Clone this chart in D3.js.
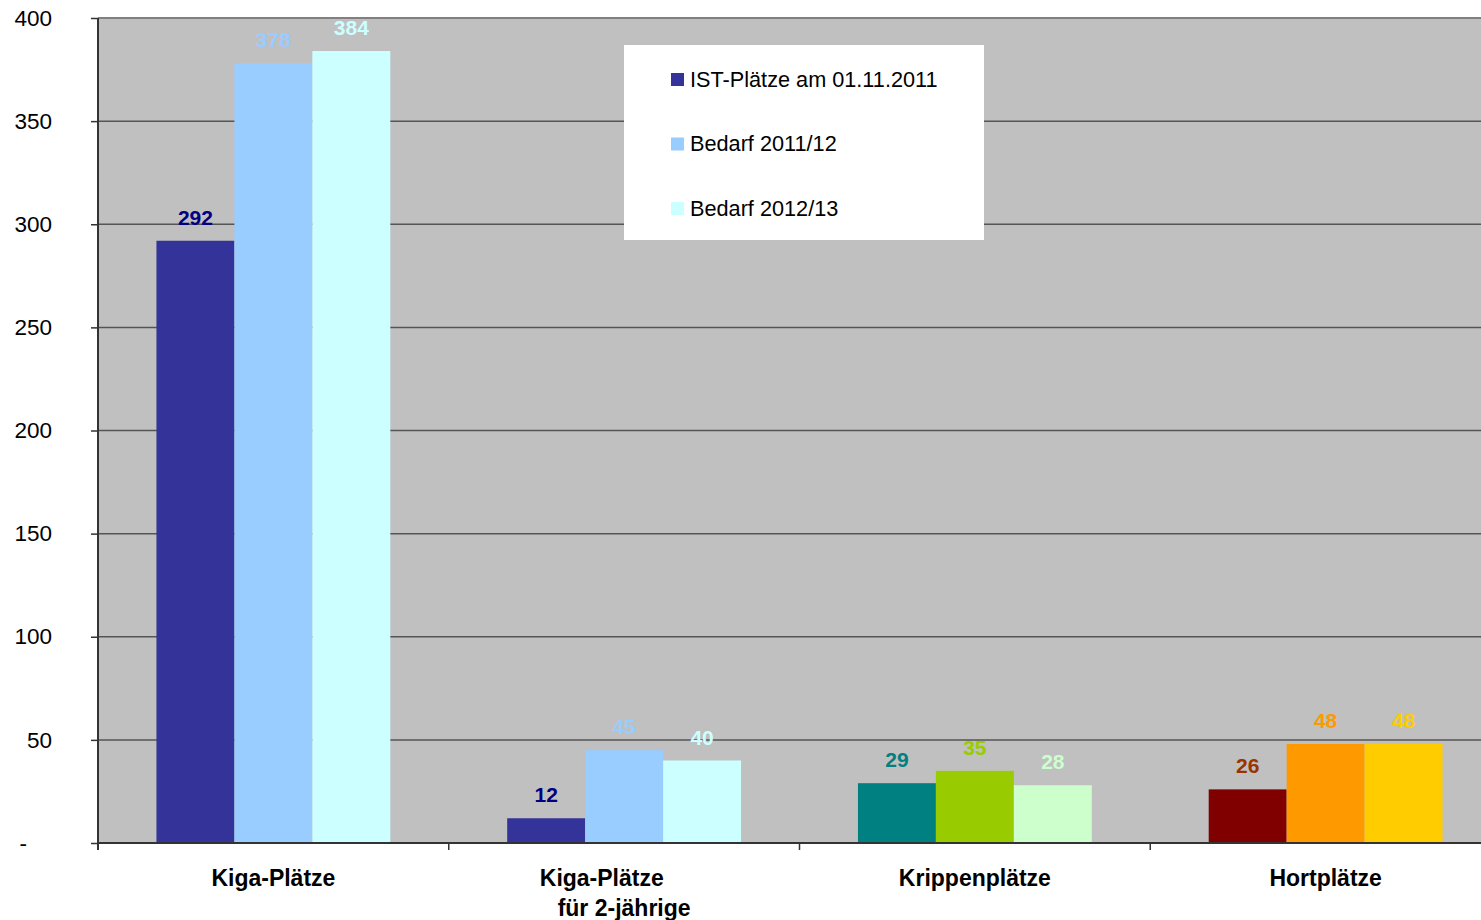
<!DOCTYPE html>
<html>
<head>
<meta charset="utf-8">
<script src="https://cdn.jsdelivr.net/npm/d3@7"></script>
<style>
  html, body { margin: 0; padding: 0; background: #ffffff; }
  svg { display: block; font-family: "Liberation Sans", Arial, sans-serif; }
</style>
</head>
<body>
<svg id="chart" width="1481" height="920"></svg>
<script>
// Betreuungsplätze: Ist-Stand und Bedarf je Angebotsart
const categories = ["Kiga-Plätze", "Kiga-Plätze\u00a0\u00a0\u00a0\u00a0\u00a0\u00a0\u00a0|für 2-jährige", "Krippenplätze", "Hortplätze"];
const seriesNames = ["IST-Plätze am 01.11.2011", "Bedarf 2011/12", "Bedarf 2012/13"];
const istPlaetze = [292, 12, 29, 26];
const bedarf1112 = [378, 45, 35, 48];
const bedarf1213 = [384, 40, 28, 48];
const yTicks = [0, 50, 100, 150, 200, 250, 300, 350, 400];

// Farben je Kategorie und Reihe (Balken und Wertbeschriftung)
const legendColors = ["#333399", "#99CCFF", "#CCFFFF"];
const barColors = [
  ["#333399", "#99CCFF", "#CCFFFF"],
  ["#333399", "#99CCFF", "#CCFFFF"],
  ["#008080", "#99CC00", "#CCFFCC"],
  ["#800000", "#FF9900", "#FFCC00"]
];
const labelColors = [
  ["#000080", "#99CCFF", "#CCFFFF"],
  ["#000080", "#99CCFF", "#CCFFFF"],
  ["#008080", "#99CC00", "#CCFFCC"],
  ["#993300", "#FF9900", "#FFCC00"]
];

const seriesValues = [istPlaetze, bedarf1112, bedarf1213];
const rows = [];
categories.forEach((c, ci) => {
  seriesValues.forEach((vals, si) => {
    rows.push({ cat: c, ci, si, value: vals[ci] });
  });
});

const svg = d3.select("#chart");
const plot = { left: 98, top: 18, bottom: 843, right: 1501 };

const x0 = d3.scaleBand()
  .domain(categories)
  .range([plot.left, plot.right])
  .padding(0);

const x1 = d3.scaleBand()
  .domain(d3.range(seriesNames.length))
  .range([0, x0.bandwidth()])
  .paddingInner(0)
  .paddingOuter(0.75);

const y = d3.scaleLinear()
  .domain([0, 400])
  .range([plot.bottom, plot.top]);

// Plotfläche
svg.append("rect")
  .attr("x", plot.left)
  .attr("y", plot.top)
  .attr("width", plot.right - plot.left)
  .attr("height", plot.bottom - plot.top)
  .attr("fill", "#C0C0C0");

// Gitternetzlinien
svg.append("g")
  .selectAll("line")
  .data(yTicks.filter(t => t > 0))
  .join("line")
  .attr("x1", plot.left)
  .attr("x2", plot.right)
  .attr("y1", d => y(d))
  .attr("y2", d => y(d))
  .attr("stroke", d => d === 400 ? "#808080" : "#555555")
  .attr("stroke-width", d => d === 400 ? 2 : 1.5);

// Balken
svg.append("g")
  .selectAll("rect")
  .data(rows)
  .join("rect")
  .attr("x", d => x0(d.cat) + x1(d.si))
  .attr("y", d => y(d.value))
  .attr("width", x1.bandwidth())
  .attr("height", d => y(0) - y(d.value))
  .attr("fill", d => barColors[d.ci][d.si]);

// Wertbeschriftungen
svg.append("g")
  .selectAll("text")
  .data(rows)
  .join("text")
  .attr("x", d => x0(d.cat) + x1(d.si) + x1.bandwidth() / 2)
  .attr("y", d => y(d.value) - 16)
  .attr("text-anchor", "middle")
  .attr("font-size", 21)
  .attr("font-weight", "bold")
  .attr("fill", d => labelColors[d.ci][d.si])
  .text(d => d.value);

// Y-Achse
const yAxis = d3.axisLeft(y)
  .tickValues(yTicks)
  .tickSize(7)
  .tickPadding(0)
  .tickFormat(d => d === 0 ? "-\u00a0\u00a0\u00a0\u00a0" : d);

const yg = svg.append("g")
  .attr("transform", `translate(${plot.left},0)`)
  .call(yAxis);
yg.select(".domain").attr("stroke", "#333333").attr("stroke-width", 2)
  .attr("d", `M0,${plot.top}V${plot.bottom + 7}`);
yg.selectAll(".tick line").attr("stroke", "#333333").attr("stroke-width", 1.5);
yg.selectAll(".tick text")
  .attr("x", -46)
  .attr("font-size", 22.5)
  .attr("font-family", "Liberation Sans, Arial, sans-serif")
  .attr("fill", "#000000");

// X-Achse
const xg = svg.append("g")
  .attr("transform", `translate(0,${plot.bottom})`);
xg.append("line")
  .attr("x1", plot.left).attr("x2", plot.right)
  .attr("stroke", "#333333").attr("stroke-width", 2);
xg.selectAll("line.tick")
  .data(categories)
  .join("line")
  .attr("class", "tick")
  .attr("x1", d => x0(d)).attr("x2", d => x0(d))
  .attr("y1", 0).attr("y2", 7)
  .attr("stroke", "#333333").attr("stroke-width", 1.5);

const catLabels = xg.selectAll("text.cat")
  .data(categories)
  .join("text")
  .attr("class", "cat")
  .attr("text-anchor", "middle")
  .attr("font-size", 23)
  .attr("font-weight", "bold")
  .attr("fill", "#000000");
catLabels.selectAll("tspan")
  .data(d => d.split("|").map((line, i) => ({ line, i, cat: d })))
  .join("tspan")
  .attr("x", d => x0(d.cat) + x0.bandwidth() / 2)
  .attr("y", d => 43 + d.i * 30)
  .text(d => d.line);

// Legende
const legend = svg.append("g").attr("transform", "translate(624,45)");
legend.append("rect")
  .attr("width", 360).attr("height", 195)
  .attr("fill", "#ffffff");
const li = legend.selectAll("g.item")
  .data(seriesNames)
  .join("g")
  .attr("class", "item")
  .attr("transform", (d, i) => `translate(47,${34 + i * 64.5})`);
li.append("rect")
  .attr("x", 0).attr("y", -6)
  .attr("width", 13).attr("height", 13)
  .attr("fill", (d, i) => legendColors[i]);
li.append("text")
  .attr("x", 19).attr("y", 7.5)
  .attr("font-size", 21.7)
  .attr("fill", "#000000")
  .text(d => d);
</script>
</body>
</html>
